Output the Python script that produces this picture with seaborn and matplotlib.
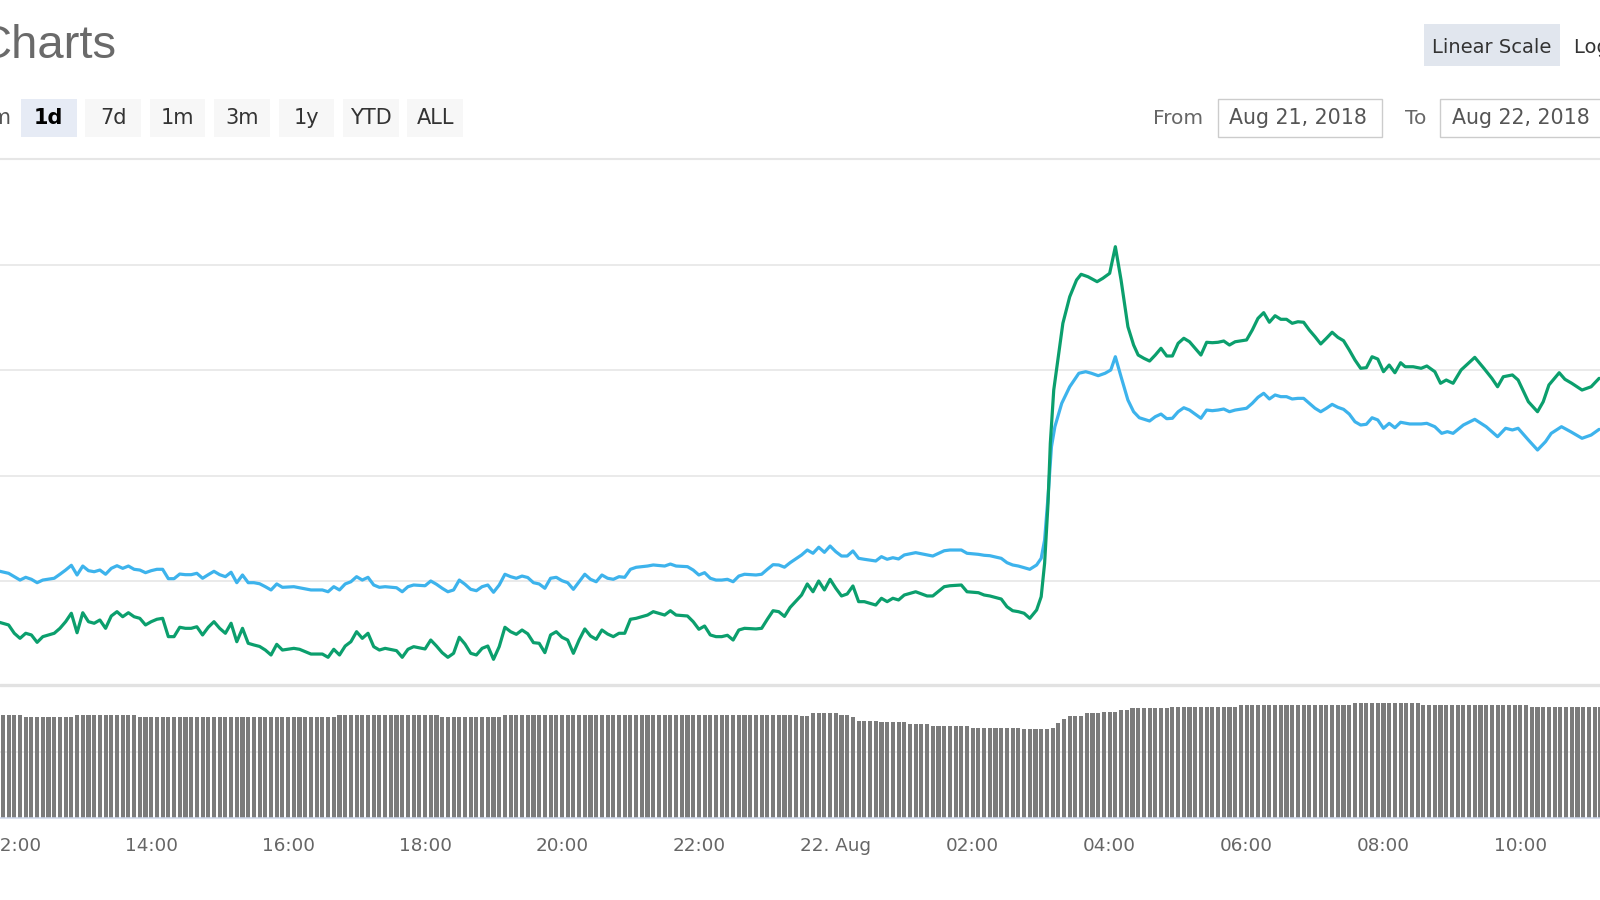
import numpy as np
import pandas as pd
import matplotlib
matplotlib.use("Agg")
import matplotlib.pyplot as plt
import seaborn as sns
from matplotlib.patches import Rectangle
from matplotlib.lines import Line2D

# ---------------- data ----------------
# time = minutes after 2018-08-21 12:00
blue_minutes = [
    -15, -5, 5, 10, 15, 20, 25, 35, 40, 45,
    50, 55, 60, 65, 70, 75, 80, 85, 90, 95,
    100, 105, 110, 115, 120, 125, 130, 135, 140, 145,
    150, 155, 160, 165, 170, 175, 180, 185, 190, 195,
    200, 205, 210, 215, 220, 225, 230, 235, 245, 250,
    260, 265, 270, 275, 280, 285, 290, 295, 300, 305,
    310, 315, 320, 325, 335, 340, 345, 350, 360, 365,
    370, 375, 380, 385, 390, 395, 400, 405, 410, 415,
    420, 425, 430, 435, 440, 445, 450, 455, 460, 465,
    470, 475, 480, 485, 490, 495, 500, 505, 510, 515,
    520, 525, 530, 535, 540, 545, 555, 560, 570, 575,
    580, 590, 595, 600, 605, 610, 615, 620, 625, 630,
    635, 640, 650, 655, 660, 665, 670, 675, 680, 690,
    695, 700, 705, 710, 715, 720, 725, 730, 735, 740,
    745, 755, 760, 765, 770, 775, 780, 790, 800, 805,
    815, 820, 830, 835, 845, 850, 855, 865, 870, 875,
    880, 890, 896, 900, 903, 906, 909, 912, 918, 925,
    933, 939, 944, 950, 956, 961, 965, 970, 976, 981,
    986, 995, 1000, 1005, 1010, 1015, 1020, 1025, 1030, 1040,
    1045, 1050, 1055, 1060, 1065, 1070, 1080, 1085, 1090, 1095,
    1100, 1105, 1110, 1115, 1120, 1125, 1130, 1135, 1140, 1145,
    1150, 1155, 1160, 1165, 1170, 1175, 1180, 1185, 1190, 1195,
    1200, 1205, 1210, 1215, 1223, 1233, 1238, 1245, 1251, 1256,
    1261, 1270, 1280, 1290, 1300, 1307, 1313, 1318, 1327, 1335,
    1342, 1347, 1356, 1364, 1374, 1382, 1389,
]
blue_values = [
    109.9, 107.4, 101.0, 103.6, 101.7, 98.5, 101.0, 102.7, 106.5, 110.5,
    115.0, 105.8, 114.3, 109.9, 108.9, 110.5, 106.5, 112.1, 114.6, 112.1,
    114.3, 111.2, 110.5, 108.0, 109.9, 111.2, 111.2, 102.3, 102.3, 106.7,
    106.1, 106.1, 107.4, 102.7, 106.1, 109.3, 106.1, 104.2, 108.4, 98.5,
    105.8, 98.5, 98.5, 97.5, 94.7, 91.6, 97.3, 94.1, 94.7, 93.7,
    91.6, 91.6, 91.6, 89.9, 94.7, 91.6, 97.3, 99.4, 104.2, 101.0,
    103.6, 96.3, 94.1, 94.7, 93.7, 89.9, 94.7, 96.3, 95.6, 100.1,
    97.0, 93.2, 89.9, 91.6, 101.0, 97.0, 92.2, 90.9, 94.7, 96.3,
    89.4, 96.3, 106.5, 104.2, 102.7, 104.8, 103.4, 98.5, 97.3, 93.2,
    102.7, 103.6, 100.4, 98.5, 92.2, 99.4, 106.5, 101.7, 99.4, 105.8,
    102.7, 101.7, 104.2, 103.6, 111.2, 113.1, 114.3, 115.3, 114.3, 116.2,
    114.3, 113.7, 110.5, 105.8, 108.0, 102.7, 101.0, 101.0, 101.7, 99.4,
    104.8, 106.5, 105.8, 106.5, 111.2, 115.6, 115.3, 113.2, 117.5, 124.8,
    129.5, 126.4, 132.1, 127.3, 133.3, 127.9, 123.8, 123.8, 128.6, 121.6,
    120.7, 119.1, 123.2, 120.7, 122.2, 121.0, 124.8, 127.0, 124.8, 123.8,
    128.8, 129.5, 129.5, 126.4, 125.4, 124.5, 124.1, 121.6, 117.5, 115.3,
    114.3, 111.2, 115.3, 121.6, 139.0, 180.1, 227.5, 246.5, 268.7, 284.4,
    297.2, 298.7, 297.2, 294.9, 297.2, 300.3, 312.9, 293.9, 271.8, 260.7,
    255.0, 251.9, 256.0, 258.5, 254.1, 254.5, 260.7, 264.5, 262.3, 254.5,
    262.3, 261.7, 262.3, 263.3, 260.7, 262.3, 264.0, 268.7, 274.4, 278.2,
    272.8, 276.6, 275.0, 275.0, 272.8, 273.4, 273.4, 268.7, 264.0, 260.7,
    264.0, 267.7, 264.9, 263.0, 258.5, 251.2, 248.1, 248.8, 255.0, 252.9,
    245.0, 249.7, 245.5, 250.7, 249.1, 249.1, 249.7, 246.5, 240.2, 241.8,
    240.2, 248.1, 253.5, 246.5, 237.0, 245.0, 243.4, 245.0, 233.9, 224.4,
    232.3, 240.2, 246.5, 241.8, 235.5, 238.6, 244.0,
]
green_minutes = [
    -15, -5, 0, 5, 10, 15, 20, 25, 30, 35,
    40, 45, 50, 55, 60, 65, 70, 75, 80, 85,
    90, 95, 100, 105, 110, 115, 120, 125, 130, 135,
    140, 145, 150, 155, 160, 165, 170, 175, 180, 185,
    190, 195, 200, 205, 210, 215, 220, 225, 230, 235,
    245, 250, 260, 265, 270, 275, 280, 285, 290, 295,
    300, 305, 310, 315, 320, 325, 335, 340, 345, 350,
    360, 365, 370, 375, 380, 385, 390, 395, 400, 405,
    410, 415, 420, 425, 430, 435, 440, 445, 450, 455,
    460, 465, 470, 475, 480, 485, 490, 495, 500, 505,
    510, 515, 520, 525, 530, 535, 540, 545, 555, 560,
    570, 575, 580, 590, 595, 600, 605, 610, 615, 620,
    625, 630, 635, 640, 650, 655, 660, 665, 670, 675,
    680, 690, 695, 700, 705, 710, 715, 720, 725, 730,
    735, 740, 745, 755, 760, 765, 770, 775, 780, 790,
    800, 805, 815, 820, 830, 835, 845, 850, 855, 865,
    870, 875, 880, 885, 890, 896, 900, 903, 906, 908,
    911, 915, 919, 925, 931, 935, 941, 949, 954, 960,
    965, 970, 976, 981, 985, 990, 995, 1000, 1005, 1010,
    1015, 1020, 1025, 1030, 1040, 1045, 1050, 1055, 1060, 1065,
    1070, 1080, 1085, 1090, 1095, 1100, 1105, 1110, 1115, 1120,
    1125, 1130, 1135, 1140, 1145, 1150, 1155, 1160, 1165, 1170,
    1175, 1180, 1185, 1190, 1195, 1200, 1205, 1210, 1215, 1219,
    1226, 1233, 1238, 1245, 1250, 1255, 1261, 1268, 1280, 1288,
    1295, 1300, 1305, 1313, 1318, 1327, 1335, 1340, 1345, 1354,
    1359, 1365, 1374, 1382, 1389,
]
green_values = [
    61.5, 58.4, 50.5, 45.7, 50.5, 48.9, 41.9, 47.3, 48.9, 50.5,
    55.2, 61.5, 69.5, 51.0, 70.0, 61.5, 60.0, 63.1, 55.2, 66.9,
    71.0, 66.2, 70.0, 66.2, 64.7, 58.4, 61.5, 63.8, 64.7, 47.3,
    47.3, 56.2, 55.2, 55.2, 56.7, 48.9, 56.2, 61.5, 55.2, 50.5,
    60.0, 42.5, 55.2, 41.0, 39.4, 38.0, 34.6, 29.9, 40.0, 34.6,
    36.2, 35.3, 30.8, 30.8, 30.8, 27.7, 35.3, 29.9, 38.4, 42.5,
    52.0, 45.7, 50.5, 37.8, 34.6, 36.2, 34.0, 27.7, 35.3, 37.8,
    35.6, 44.1, 38.4, 32.1, 27.7, 31.5, 46.7, 40.3, 31.5, 29.9,
    36.2, 38.4, 25.8, 37.8, 56.2, 52.0, 49.5, 53.6, 50.0, 41.6,
    41.0, 32.1, 48.9, 52.0, 46.7, 44.1, 31.5, 44.1, 54.6, 47.9,
    44.8, 53.6, 49.8, 47.3, 50.5, 50.5, 63.8, 64.7, 67.8, 71.0,
    67.8, 71.9, 67.8, 66.9, 61.5, 54.3, 57.4, 48.9, 47.3, 47.3,
    48.6, 44.1, 53.6, 55.2, 54.6, 55.2, 63.8, 71.9, 71.0, 66.5,
    75.1, 86.8, 97.3, 89.9, 100.1, 91.6, 101.7, 93.2, 85.9, 87.8,
    95.4, 80.5, 80.5, 77.3, 83.7, 80.5, 83.7, 82.1, 86.8, 89.9,
    85.9, 85.9, 94.7, 95.6, 96.3, 89.9, 89.0, 86.8, 85.9, 83.0,
    75.7, 71.9, 71.0, 69.5, 64.7, 72.6, 85.2, 116.9, 173.8, 230.7,
    281.3, 312.9, 344.6, 369.8, 385.7, 391.1, 388.8, 384.1, 387.3, 392.0,
    417.3, 385.7, 341.4, 324.0, 314.5, 311.4, 308.8, 314.5, 320.9, 313.6,
    313.6, 325.6, 330.4, 327.1, 314.5, 326.6, 326.2, 326.6, 327.8, 324.0,
    327.1, 328.8, 338.2, 349.3, 354.7, 345.6, 351.8, 348.4, 348.4, 344.6,
    346.1, 345.6, 338.2, 331.9, 325.0, 330.4, 336.1, 331.3, 328.1, 319.3,
    309.8, 301.9, 302.5, 312.9, 310.7, 298.7, 305.0, 297.7, 307.2, 303.4,
    303.4, 301.9, 304.1, 298.7, 287.7, 290.8, 287.7, 300.3, 312.3, 301.9,
    292.4, 284.4, 293.9, 295.6, 290.8, 270.2, 260.7, 270.2, 286.1, 297.7,
    291.5, 287.7, 281.3, 284.4, 292.4,
]
# volume: 5-minute bars starting 11:50, runs of equal height
volume_levels = [78.5, 77.0, 78.5, 76.8, 78.5, 76.8, 78.5, 77.8, 79.8, 78.5,
                 76.8, 74.2, 72.9, 71.6, 70.1, 68.8, 67.6, 68.8, 72.6, 75.2,
                 78.0, 79.8, 81.1, 82.4, 83.7, 84.9, 86.2, 87.5, 86.2, 84.9]
volume_runs = [4, 9, 11, 35, 18, 11, 52, 2, 5, 2,
               1, 4, 5, 4, 7, 9, 5, 1, 1, 1,
               3, 3, 3, 2, 7, 12, 20, 12, 19, 13]
volume_start_minute = -10

tick_hours = [12, 14, 16, 18, 20, 22, 24, 26, 28, 30, 32, 34]
tick_labels = ["12:00", "14:00", "16:00", "18:00", "20:00", "22:00",
               "22. Aug", "02:00", "04:00", "06:00", "08:00", "10:00"]
range_buttons = ["1d", "7d", "1m", "3m", "1y", "YTD", "ALL"]
selected_button = "1d"
date_from = "Aug 21, 2018"
date_to = "Aug 22, 2018"

assert len(blue_minutes) == len(blue_values), (len(blue_minutes), len(blue_values))
assert len(green_minutes) == len(green_values), (len(green_minutes), len(green_values))
assert len(volume_levels) == len(volume_runs)

# ---------------- style ----------------
BLUE = "#3db3ec"
GREEN = "#0b9f6d"
GRID = "#e6e6e6"
AXIS = "#ccd6eb"

sns.set_theme(style="white")
plt.rcParams["font.family"] = ["DejaVu Sans"]

W, H = 1600, 900
fig = plt.figure(figsize=(16, 9), dpi=100)
fig.patch.set_facecolor("white")


def fx(px):
    return px / W


def fy(py):
    return 1 - py / H


X0, X1 = 11.7911, 35.1627  # hours since Aug 21 00:00 at the left / right edge

# ---------------- price lines ----------------
ax = fig.add_axes([0, fy(686.5), 1, (686.5 - 159) / H])
ax.set_facecolor("none")
frames = [
    pd.DataFrame({"hour": 12 + np.asarray(blue_minutes) / 60, "value": blue_values,
                  "series": "Market Cap"}),
    pd.DataFrame({"hour": 12 + np.asarray(green_minutes) / 60, "value": green_values,
                  "series": "Price"}),
]
df = pd.concat(frames, ignore_index=True)
sns.lineplot(data=df, x="hour", y="value", hue="series",
             hue_order=["Market Cap", "Price"],
             palette={"Market Cap": BLUE, "Price": GREEN},
             estimator=None, linewidth=2.3, legend=False, ax=ax)
ax.set_xlim(X0, X1)
ax.set_ylim(0, 500.5)
ax.set_yticks([100, 200, 300, 400])
ax.yaxis.grid(True, color=GRID, linewidth=1.2)
ax.xaxis.grid(False)
ax.set_axisbelow(True)
ax.tick_params(left=False, bottom=False, labelleft=False, labelbottom=False)
for s in ax.spines.values():
    s.set_visible(False)
ax.set_xlabel("")
ax.set_ylabel("")

# ---------------- volume bars ----------------
vax = fig.add_axes([0, fy(817.5), 1, (817.5 - 687) / H])
vax.set_facecolor("none")
n_bars = int(np.sum(volume_runs))
vol_hours = 12 + (volume_start_minute + 5 * np.arange(n_bars)) / 60
vol_vals = np.repeat(volume_levels, volume_runs)
vax.bar(vol_hours, vol_vals, width=0.06, color="#7b7b7b", linewidth=0)
vax.set_xlim(X0, X1)
vax.set_ylim(0, 100)
vax.set_yticks([50])
vax.yaxis.grid(True, color=GRID, linewidth=1.2)
vax.xaxis.grid(False)
vax.set_axisbelow(True)
vax.set_xticks(tick_hours)
vax.set_xticklabels(tick_labels)
vax.tick_params(axis="y", left=False, labelleft=False)
vax.tick_params(axis="x", length=5.4, width=1.0, color=AXIS, labelsize=13.2,
                labelcolor="#666666", pad=8.6)
for k, s in vax.spines.items():
    s.set_visible(k == "bottom")
vax.spines["bottom"].set_color(AXIS)
vax.spines["bottom"].set_linewidth(1.1)

# ---------------- separators ----------------
fig.add_artist(Line2D([0, 1], [fy(158.5), fy(158.5)], transform=fig.transFigure,
                      color=GRID, linewidth=1.5, zorder=5))
fig.add_artist(Line2D([0, 1], [fy(685.3), fy(685.3)], transform=fig.transFigure,
                      color="#e2e2e2", linewidth=2.4, zorder=5))


def box(x0, y0, x1, y1, face, edge="none", lw=0.0):
    fig.add_artist(Rectangle((fx(x0), fy(y1)), (x1 - x0) / W, (y1 - y0) / H,
                             transform=fig.transFigure, facecolor=face,
                             edgecolor=edge, linewidth=lw, zorder=1))


def text(x, y, s, **kw):
    fig.text(fx(x), fy(y), s, **kw)


# title
text(117, 58.5, "Charts", ha="right", va="baseline", fontsize=34,
     color="#6a6a6a", family=["Liberation Sans", "DejaVu Sans"])

# zoom label + range buttons
text(11.5, 124, "Zoom", ha="right", va="baseline", fontsize=15, color="#555555")
for i, lab in enumerate(range_buttons):
    x0 = 21 + 64.4 * i
    sel = lab == selected_button
    box(x0, 99, x0 + 55.5, 136.5, "#e6ebf5" if sel else "#f7f7f7")
    text(x0 + 27.75, 124, lab, ha="center", va="baseline", fontsize=15,
         color="#000000" if sel else "#333333",
         fontweight="bold" if sel else "normal")

# scale buttons
box(1424, 24, 1560, 66, "#e1e6ee")
text(1492, 52.7, "Linear Scale", ha="center", va="baseline", fontsize=14, color="#333333")
text(1574, 52.7, "Log Scale", ha="left", va="baseline", fontsize=14, color="#333333")

# date inputs
text(1203, 124, "From", ha="right", va="baseline", fontsize=14.5, color="#666666")
box(1217.5, 99.3, 1381.5, 136.7, "white", edge="#cccccc", lw=1.0)
text(1229, 124, date_from, ha="left", va="baseline", fontsize=14.8, color="#555555")
text(1426.7, 124, "To", ha="right", va="baseline", fontsize=14.5, color="#666666")
box(1440, 99.3, 1620, 136.7, "white", edge="#cccccc", lw=1.0)
text(1451.6, 124, date_to, ha="left", va="baseline", fontsize=14.8, color="#555555")

fig.savefig("out.png", dpi=100, facecolor="white")
